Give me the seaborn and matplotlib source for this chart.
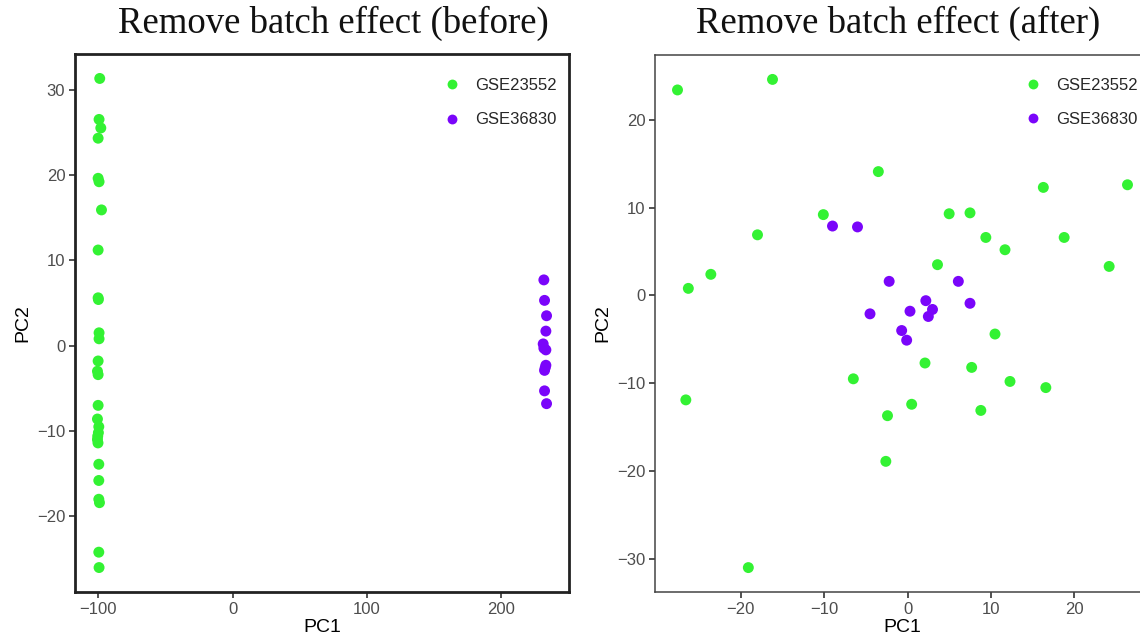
import numpy as np
import pandas as pd
import matplotlib
matplotlib.use("Agg")
import matplotlib.pyplot as plt
import seaborn as sns

# ---------------- data ----------------
batches = ["GSE23552", "GSE36830"]

before_g_x = [-99.0, -99.5, -98.2, -100.2, -100.2, -99.5, -97.7, -100.2, -100.2, -100.0,
              -99.5, -99.5, -100.2, -100.7, -100.2, -100.2, -100.7, -99.7, -100.0, -100.5,
              -100.7, -100.3, -99.7, -99.7, -99.7, -99.2, -99.7, -99.5]
before_g_y = [31.3, 26.5, 25.5, 24.3, 19.6, 19.2, 15.9, 11.2, 5.6, 5.4,
              1.5, 0.8, -1.8, -3.0, -3.4, -7.0, -8.6, -9.5, -10.2, -10.6,
              -11.0, -11.4, -13.9, -15.8, -18.0, -18.4, -24.2, -26.0]
before_p_x = [232.0, 232.5, 234.0, 233.5, 231.5, 232.0, 233.5, 233.5, 232.5, 233.0, 232.5, 234.0]
before_p_y = [7.7, 5.3, 3.5, 1.7, 0.2, -0.3, -0.5, -2.3, -2.9, -2.6, -5.3, -6.8]

after_g_x = [-27.6, -16.2, -3.5, 16.3, 26.4, -10.1, 5.0, 7.5, -18.0, 9.4,
             18.8, 11.7, 3.6, 24.2, -23.6, -26.3, 10.5, 2.1, 7.7, -6.5,
             12.3, 16.6, -26.6, 0.5, 8.8, -2.4, -2.6, -19.1]
after_g_y = [23.4, 24.6, 14.1, 12.3, 12.6, 9.2, 9.3, 9.4, 6.9, 6.6,
             6.6, 5.2, 3.5, 3.3, 2.4, 0.8, -4.4, -7.7, -8.2, -9.5,
             -9.8, -10.5, -11.9, -12.4, -13.1, -13.7, -18.9, -31.0]
after_p_x = [-9.0, -6.0, -2.2, 6.1, 2.2, 7.5, 0.3, 3.0, 2.5, -4.5, -0.7, -0.1]
after_p_y = [7.9, 7.8, 1.6, 1.6, -0.6, -0.9, -1.8, -1.6, -2.4, -2.1, -4.0, -5.1]

titles = ["Remove batch effect (before)", "Remove batch effect (after)"]
before_xticks = [-100, 0, 100, 200]
before_yticks = [-20, -10, 0, 10, 20, 30]
after_xticks = [-20, -10, 0, 10, 20]
after_yticks = [-30, -20, -10, 0, 10, 20]

palette = {"GSE23552": "#33F233", "GSE36830": "#7A05FA"}


def make_df(gx, gy, px, py):
    return pd.DataFrame({
        "PC1": list(gx) + list(px),
        "PC2": list(gy) + list(py),
        "batch": [batches[0]] * len(gx) + [batches[1]] * len(px),
    })


df_before = make_df(before_g_x, before_g_y, before_p_x, before_p_y)
df_after = make_df(after_g_x, after_g_y, after_p_x, after_p_y)

# ---------------- figure ----------------
sns.set_theme(style="white")
plt.rcParams["font.family"] = ["Liberation Sans", "DejaVu Sans"]

W, H = 1140, 642
fig = plt.figure(figsize=(W / 100, H / 100), dpi=100)


def px_axes(l, r, t, b):
    return fig.add_axes([l / W, 1 - b / H, (r - l) / W, (b - t) / H])


ax1 = px_axes(75, 569, 54, 592)
ax2 = px_axes(655, 1150, 55, 592)


def pad_lim(vals, f=0.05):
    lo, hi = min(vals), max(vals)
    d = (hi - lo) * f
    return lo - d, hi + d


for ax, df, xt, yt, spw, spc, anchor in [
    (ax1, df_before, before_xticks, before_yticks, 2.0, "#222222", (0.975, 0.955)),
    (ax2, df_after, after_xticks, after_yticks, 1.1, "#444444", (0.975, 0.957)),
]:
    sns.scatterplot(data=df, x="PC1", y="PC2", hue="batch", hue_order=batches,
                    palette=palette, s=62, linewidth=0, ax=ax, legend=True)
    ax.set_xlim(*pad_lim(df["PC1"]))
    ax.set_ylim(*pad_lim(df["PC2"]))
    ax.set_xticks(xt)
    ax.set_yticks(yt)
    ax.set_xticklabels([str(v).replace("-", "\u2212") for v in xt])
    ax.set_yticklabels([str(v).replace("-", "\u2212") for v in yt])
    ax.tick_params(axis="both", which="both", direction="out", length=4, width=1.2,
                   color="#333333", labelcolor="#4D4D4D", labelsize=12, pad=3,
                   bottom=True, left=True)
    for sp in ax.spines.values():
        sp.set_visible(True)
        sp.set_linewidth(spw)
        sp.set_color(spc)
    ax.set_xlabel("PC1", fontsize=14, color="black", labelpad=2)
    ax.set_ylabel("PC2", fontsize=14, color="black", labelpad=4)
    ax.grid(False)
    ax.set_facecolor("white")
    ax.legend(loc="upper right", bbox_to_anchor=anchor, frameon=False, fontsize=12,
              title=None, markerscale=0.9, handletextpad=0.8, labelspacing=1.15,
              borderaxespad=0, borderpad=0, handlelength=1.2)

fig.text(333 / W, 1 - 23 / H, titles[0], ha="center", va="center",
         fontsize=26.5, family=["Liberation Serif", "DejaVu Serif"], color="#111111")
fig.text(898 / W, 1 - 23 / H, titles[1], ha="center", va="center",
         fontsize=26.5, family=["Liberation Serif", "DejaVu Serif"], color="#111111")

fig.savefig("out.png", dpi=100, facecolor="white")
